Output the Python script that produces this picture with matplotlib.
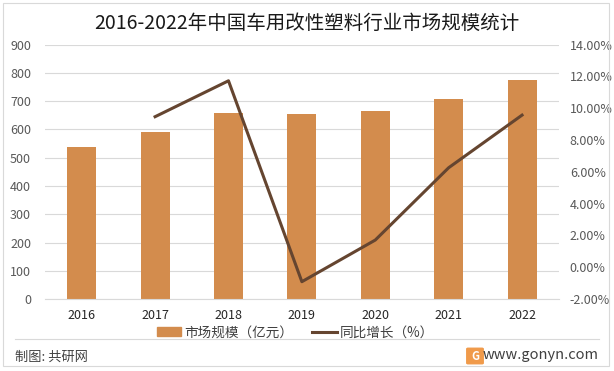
import matplotlib
matplotlib.use('Agg')
from matplotlib import pyplot as plt
from matplotlib.patches import Rectangle, FancyBboxPatch
from matplotlib.lines import Line2D
from matplotlib.ticker import FuncFormatter

plt.rcParams['font.family'] = ['Noto Sans CJK SC', 'DejaVu Sans']

# 数据
years = ['2016', '2017', '2018', '2019', '2020', '2021', '2022']
market_size = [538, 592, 659, 655, 665, 708, 775]          # 亿元
growth_years = ['2017', '2018', '2019', '2020', '2021', '2022']
growth = [9.47, 11.73, -0.91, 1.71, 6.26, 9.57]             # %

bar_color = '#D38C4D'
line_color = '#654530'

fig = plt.figure(figsize=(6.14, 3.71), dpi=100)
ax = fig.add_axes([0.0733, 0.194, 0.8367, 0.6855])

x = list(range(len(years)))
ax.bar(x, market_size, width=0.395, color=bar_color, zorder=2)
ax.set_xlim(-0.5, len(years) - 0.5)
ax.set_ylim(0, 900)
ax.set_yticks(range(0, 901, 100))
ax.set_xticks(x)
ax.set_xticklabels(years)
ax.grid(axis='y', color='#D9D9D9', linewidth=0.8, zorder=0)
for s in ax.spines.values():
    s.set_visible(False)
ax.spines['bottom'].set_visible(True)
ax.spines['bottom'].set_color('#D9D9D9')
ax.tick_params(axis='both', length=0, labelsize=9)
ax.tick_params(axis='y', labelcolor='#595959', pad=10)
ax.tick_params(axis='x', labelcolor='#262626', pad=7)

ax2 = ax.twinx()
gx = [years.index(y) for y in growth_years]
ax2.plot(gx, growth, color=line_color, linewidth=2.2, zorder=3)
ax2.set_ylim(-2, 14)
ax2.set_yticks(range(-2, 15, 2))
ax2.yaxis.set_major_formatter(FuncFormatter(lambda v, p: '%.2f%%' % v))
for s in ax2.spines.values():
    s.set_visible(False)
ax2.tick_params(axis='y', length=0, labelsize=9, labelcolor='#595959', pad=8)

# 标题
fig.text(0.5, 0.938, '2016-2022年中国车用改性塑料行业市场规模统计',
         ha='center', va='center', fontsize=14, color='#1a1a1a')

# 图例
handles = [Rectangle((0, 0), 1, 1, color=bar_color),
           Line2D([0], [0], color=line_color, linewidth=2.2)]
fig.legend(handles, ['市场规模（亿元）', '同比增长（%）'], loc='center',
           bbox_to_anchor=(0.481, 0.104), ncol=2, frameon=False,
           fontsize=9.8, handlelength=1.8, handletextpad=0.2, columnspacing=1.4,
           labelcolor='#404040')

# 底部
fig.add_artist(Line2D([15 / 614, 599 / 614], [1 - 339 / 371] * 2,
                      color='#D9D9D9', linewidth=0.8))
fig.text(15 / 614, 1 - 357 / 371, '制图: 共研网', ha='left', va='center',
         fontsize=9.5, color='#404040')
fig.text(599 / 614, 1 - 355 / 371, 'www.gonyn.com', ha='right', va='center',
         fontsize=10.5, color='#404040')
fig.add_artist(FancyBboxPatch((468 / 614, 1 - 363 / 371), 14 / 614, 14 / 371,
                              boxstyle='round,pad=0.002', color='#F09A4A'))
fig.text(475 / 614, 1 - 356 / 371, 'G', ha='center', va='center',
         fontsize=8, color='white', fontweight='bold')

# 外框
fig.add_artist(Rectangle((3 / 614, 1 - 366 / 371), 606 / 614, 363 / 371,
                         fill=False, edgecolor='#D9D9D9', linewidth=0.8))

fig.savefig('out.png', dpi=100)
